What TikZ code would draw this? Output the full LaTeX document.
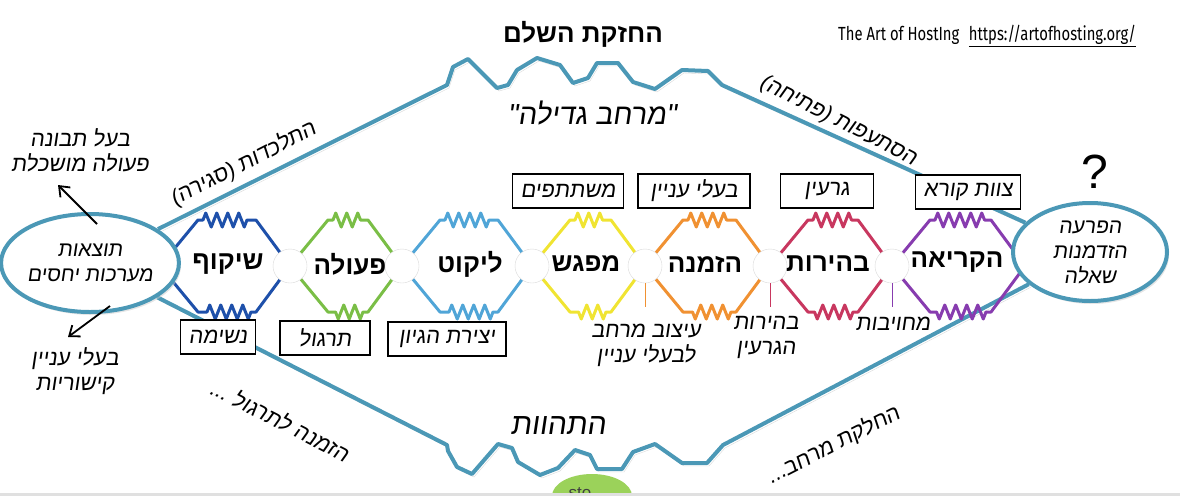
\documentclass[tikz,border=0pt]{standalone}
\usepackage{fontspec}
\setmainfont{Liberation Sans}
\newfontfamily\hebfont[Script=Hebrew]{Liberation Sans}
\newfontfamily\handfont[Script=Hebrew,FakeSlant=0.15]{Liberation Sans}
\newfontfamily\tagfont[FakeStretch=0.78]{Fira Sans}
\TeXXeTstate=1
\usepackage{tikz}
\usetikzlibrary{arrows.meta,calc,positioning,shapes.geometric,decorations.pathmorphing,shadows,backgrounds}
\definecolor{cf}{RGB}{75,152,182}
\definecolor{c1}{RGB}{30,80,170}
\definecolor{c2}{RGB}{122,190,70}
\definecolor{c3}{RGB}{80,165,215}
\definecolor{c4}{RGB}{240,228,50}
\definecolor{c5}{RGB}{240,145,50}
\definecolor{c6}{RGB}{200,55,95}
\definecolor{c7}{RGB}{135,60,175}
\definecolor{cg}{RGB}{155,210,90}
\newcommand{\heb}[1]{{\hebfont\beginR #1\endR}}
\newcommand{\hand}[1]{{\handfont\beginR #1\endR}}
% one coloured ring between two holes
\newcommand{\cell}[3]{%
  \draw[ring,#3] (#1,266) -- (#1+38,220) decorate{-- (#2-34,220)} -- (#2,266)
    -- (#2-34,312) decorate{-- (#1+38,312)} -- cycle;}
\tikzset{
  hub/.style={ellipse, draw=cf, line width=4pt, fill=white, minimum width=154pt, minimum height=98pt, inner sep=0pt, align=center, font=\fontsize{21}{25}\selectfont, drop shadow={shadow xshift=2pt, shadow yshift=-3pt, fill=black!20}},
  hole/.style={circle, draw=black!15, fill=white, minimum size=34pt, inner sep=0pt},
  stage/.style={font=\fontsize{26}{30}\selectfont\bfseries},
  tag/.style={draw, line width=1.2pt, fill=white, minimum height=34pt, inner xsep=8pt, font=\fontsize{22}{26}\selectfont},
  note/.style={font=\fontsize{22}{25}\selectfont, align=center},
  rim/.style={cf, line width=4pt, line join=round, preaction={draw=black!15, transform canvas={xshift=2pt,yshift=-3pt}}},
  ring/.style={line width=3pt, line join=round, decoration={zigzag, segment length=11pt, amplitude=7pt, pre length=5pt, post length=5pt}},
  pointer/.style={-{Straight Barb[length=9pt,width=14pt]}, line width=1.8pt},
  tick/.style={line width=0.8pt}
}
\begin{document}
\begin{tikzpicture}[x=1pt,y=-1pt]
    \useasboundingbox (0,0) rectangle (1180,496);
    % Hubs
    \node[hub] (res) at (90,263) {\hand{תוצאות}\\\hand{מערכות יחסים}};
    \node[hub] (que) at (1090,252) {\hand{הפרעה}\\\hand{הזדמנות}\\\hand{שאלה}};

    \begin{scope}[on background layer]
    % Outer rim
    \draw[rim] (res) -- (447,85) -- (453,67) -- (468,59) -- (497,88) -- (508,85) -- (517,70) -- (537,58)
      -- (560,65) -- (573,83) -- (588,78) -- (597,63) -- (618,63) -- (633,82) -- (655,89) -- (682,70)
      -- (708,71) -- (722,85) -- (que);
    \draw[rim] (res) -- (447,445) -- (448,451) -- (457,467) -- (472,474) -- (498,444) -- (512,448)
      -- (518,462) -- (540,475) -- (558,468) -- (575,450) -- (590,455) -- (597,469) -- (622,469)
      -- (633,452) -- (655,444) -- (682,463) -- (707,463) -- (723,445) -- (que);
    % Rings
    \cell{160}{290}{c1}
    \cell{290}{402}{c2}
    \cell{402}{532}{c3}
    \cell{532}{645}{c4}
    \cell{645}{770}{c5}
    \cell{770}{892}{c6}
    \cell{892}{1025}{c7}
    \end{scope}

    % Holes
    \node[hole] (h1) at (290,266) {};
    \node[hole] (h2) at (402,266) {};
    \node[hole] (h3) at (532,266) {};
    \node[hole] (h4) at (645,266) {};
    \node[hole] (h5) at (770,266) {};
    \node[hole] (h6) at (892,266) {};

    % Stage names
    \node[stage] (s1) at (228,264) {\heb{שיקוף}};
    \node[stage] (s2) at (350,264) {\heb{פעולה}};
    \node[stage] (s3) at (470,264) {\heb{ליקוט}};
    \node[stage] (s4) at (586,264) {\heb{מפגש}};
    \node[stage] (s5) at (705,264) {\heb{הזמנה}};
    \node[stage] (s6) at (828,264) {\heb{בהירות}};
    \node[stage] (s7) at (957,262) {\heb{הקריאה}};

    % Tags
    \node[tag, minimum width=103pt] (t4) at (568,191) {\hand{משתתפים}};
    \node[tag, minimum width=112pt] (t5) at (694,191) {\hand{בעלי עניין}};
    \node[tag, minimum width=93pt] (t6) at (827,191) {\hand{גרעין}};
    \node[tag, minimum width=104pt] (t7) at (968,192) {\hand{צוות קורא}};
    \node[tag, minimum width=73pt] (t1) at (218,337) {\hand{נשימה}};
    \node[tag, minimum width=90pt] (t2) at (325,338) {\hand{תרגול}};
    \node[tag, minimum width=118pt] (t3) at (447,339) {\hand{יצירת הגיון}};

    % Ticks and notes
    \draw[tick, c5] (h4.south) -- ++(0,24);
    \draw[tick, c6] (h5.south) -- ++(0,24);
    \draw[tick, c7] (h6.south) -- ++(0,24);
    \node[note] (n4) at (646,345) {\hand{עיצוב מרחב}\\\hand{לבעלי עניין}};
    \node[note] (n5) at (766,337) {\hand{בהירות}\\\hand{הגרעין}};
    \node[note] (n6) at (893,324) {\hand{מחויבות}};

    % Outer texts
    \node[stage] (hold) at (583,34) {\heb{החזקת השלם}};
    \node[note, font=\fontsize{29}{32}\selectfont] (grow) at (592,113) {\hand{"מרחב גדילה"}};
    \node[note, font=\fontsize{30}{32}\selectfont] (become) at (558,426) {\hand{התהוות}};
    \node[note, rotate=27] (close) at (243,164) {\hand{התלכדות (סגירה)}};
    \node[note, rotate=-27] (open) at (838,121) {\hand{הסתעפות (פתיחה)}};
    \node[note, rotate=-27] (invite) at (280,420) {\hand{הזמנה לתרגול ...}};
    \node[note, rotate=27] (smooth) at (833,445) {\hand{החלקת מרחב...}};
    \node[font=\fontsize{48}{50}\selectfont] (ask) at (1095,172) {?};

    % Side notes
    \node[note] (wise) at (80,150) {\hand{בעל תבונה}\\\hand{פעולה מושכלת}};
    \node[note] (link) at (75,371) {\hand{בעלי עניין}\\\hand{קישוריות}};
    \coordinate (upTip) at (58,185);
    \coordinate (downTip) at (68,337);
    \draw[pointer] ($(res.north)+(7,12)$) -- (upTip);
    \draw[pointer] ($(res.south)+(20,-8)$) -- (downTip);

    % Credit
    \node[font=\tagfont\fontsize{19}{22}\selectfont, anchor=west, inner sep=0pt] (aoh) at (838,36) {The Art of HostIng\enspace\underline{https://artofhosting.org/}};

    % Bottom edge
    \begin{scope}
      \clip (0,0) rectangle (1180,493);
      \node[ellipse, fill=cg, minimum width=80pt, minimum height=44pt] (blob) at (592,496) {};
      \node[font=\fontsize{17}{20}\selectfont, text=black!75, anchor=north west] (sto) at (565,484) {sto};
    \end{scope}
    \fill[black!12] (0,493) rectangle (1180,496);
\end{tikzpicture}
\end{document}
